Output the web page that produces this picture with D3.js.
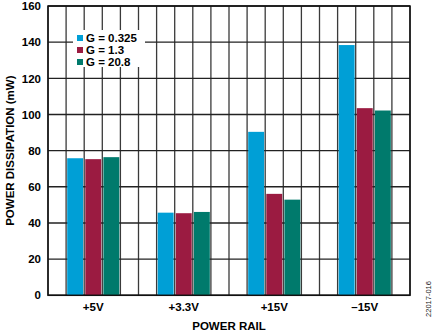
<!DOCTYPE html>
<html><head><meta charset="utf-8">
<script src="https://cdn.jsdelivr.net/npm/d3@7"></script>
<style>body{margin:0;background:#fff}svg{display:block}text{font-family:"Liberation Sans",Arial,sans-serif}</style>
</head><body><svg id="c" width="435" height="336"></svg>
<script>
const categories = ["+5V", "+3.3V", "+15V", "\u201315V"];
const seriesNames = ["G = 0.325", "G = 1.3", "G = 20.8"];
const seriesColors = ["#009fd6", "#9b1b41", "#007a6c"];
const g0325 = [75.8, 45.7, 90.4, 138.4];
const g13 = [75.3, 45.4, 56.1, 103.5];
const g208 = [76.4, 46.1, 52.9, 102.2];
const yTicks = [0, 20, 40, 60, 80, 100, 120, 140, 160];
const series = [g0325, g13, g208];

const svg = d3.select("#c");
const m = {l: 48, r: 410, t: 6, b: 295.3};
const x0 = d3.scaleBand().domain(categories).range([m.l, m.r]).padding(0);
const bw = x0.bandwidth();
const x1 = d3.scaleBand().domain(d3.range(3)).range([bw * 0.2, bw * 0.8]).paddingInner(0.12).paddingOuter(0.06);
const y = d3.scaleLinear().domain([0, 160]).range([m.b, m.t]);

// vertical grid: 20 columns
const vcols = d3.range(21).map(i => m.l + i * (m.r - m.l) / 20);
const grid = svg.append("g");
grid.selectAll("line.v").data(vcols).join("line")
  .attr("x1", d => d).attr("x2", d => d).attr("y1", m.t).attr("y2", m.b)
  .attr("stroke", "#3a3a3a").attr("stroke-width", 1.3);
grid.selectAll("line.h").data(yTicks).join("line")
  .attr("x1", m.l).attr("x2", m.r).attr("y1", d => y(d)).attr("y2", d => y(d))
  .attr("stroke", "#222").attr("stroke-width", 1.4);

// legend background
const lg = svg.append("g");
lg.append("rect").attr("x", 73).attr("y", 30).attr("width", 72).attr("height", 37).attr("fill", "#fff");

// bars
const bars = svg.append("g");
categories.forEach((c, ci) => {
  series.forEach((s, si) => {
    bars.append("rect")
      .attr("x", x0(c) + x1(si)).attr("width", x1.bandwidth())
      .attr("y", y(s[ci])).attr("height", y(0) - y(s[ci]))
      .attr("fill", seriesColors[si]);
  });
});

// frame
svg.append("rect").attr("x", m.l).attr("y", m.t).attr("width", m.r - m.l).attr("height", m.b - m.t)
  .attr("fill", "none").attr("stroke", "#111").attr("stroke-width", 1.5);

// y axis
const ya = svg.append("g").attr("transform", `translate(${m.l},0)`)
  .call(d3.axisLeft(y).tickValues(yTicks).tickSize(0).tickPadding(7));
ya.select(".domain").remove();
ya.selectAll("text").attr("font-size", 11.5).attr("font-weight", "bold").attr("fill", "#000")
  .attr("font-family", "Liberation Sans, Arial, sans-serif");

// x axis
const xa = svg.append("g").attr("transform", `translate(0,${m.b})`)
  .call(d3.axisBottom(x0).tickSize(0).tickPadding(8));
xa.select(".domain").remove();
xa.selectAll("text").attr("font-size", 11.5).attr("font-weight", "bold").attr("fill", "#000")
  .attr("font-family", "Liberation Sans, Arial, sans-serif");

// titles
svg.append("text").attr("x", (m.l + m.r) / 2).attr("y", 330).attr("text-anchor", "middle")
  .attr("font-size", 11.5).attr("font-weight", "bold").text("POWER RAIL");
svg.append("text").attr("transform", `translate(14,${(m.t + m.b) / 2}) rotate(-90)`).attr("text-anchor", "middle")
  .attr("font-size", 11.5).attr("font-weight", "bold").text("POWER DISSIPATION (mW)");
svg.append("text").attr("transform", `translate(431,299) rotate(-90)`).attr("text-anchor", "middle")
  .attr("font-size", 7.5).attr("fill", "#222").text("22017-016");

// legend
seriesNames.forEach((n, i) => {
  const yy = 38 + i * 12;
  lg.append("rect").attr("x", 77).attr("y", yy - 3).attr("width", 6).attr("height", 6).attr("fill", seriesColors[i]);
  lg.append("text").attr("x", 86).attr("y", yy + 4).attr("font-size", 11.5).attr("font-weight", "bold").text(n);
});
</script></body></html>
